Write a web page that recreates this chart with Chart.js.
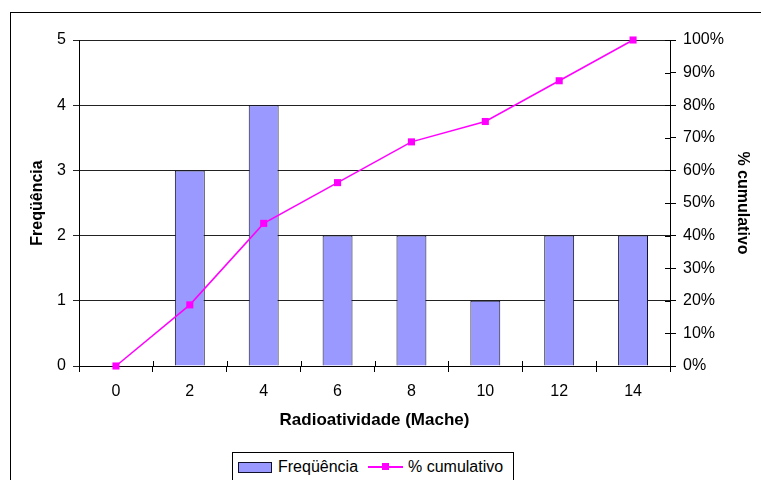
<!DOCTYPE html>
<html>
<head>
<meta charset="utf-8">
<script src="https://cdn.jsdelivr.net/npm/chart.js@4"></script>
<style>
  body { margin: 0; background: #fff; }
  #wrap { position: relative; width: 761px; height: 480px; overflow: hidden; font-family: "Liberation Sans", Arial, sans-serif; }
  #frame { position: absolute; left: 10px; top: 12px; width: 800px; height: 500px; border: 1px solid #000; }
  #grafico { position: absolute; left: 0; top: 0; }
  #legenda { position: absolute; left: 232px; top: 452px; width: 280px; height: 40px; border: 1px solid #000; background: #fff; }
  .sw { position: absolute; }
  .txt { position: absolute; font-size: 16px; line-height: 18px; color: #000; white-space: nowrap; }
</style>
</head>
<body>
<div id="wrap">
  <div id="frame"></div>
  <canvas id="grafico" width="761" height="480"></canvas>
  <div id="legenda">
    <div class="sw" style="left:5px;top:9px;width:32px;height:9px;background:#9999FF;border:1px solid #10102a;"></div>
    <div class="txt" style="left:45px;top:5px;">Freqüência</div>
    <div class="sw" style="left:135px;top:13px;width:35px;height:2px;background:#FF00FF;"></div>
    <div class="sw" style="left:149px;top:10px;width:7px;height:7px;background:#FF00FF;"></div>
    <div class="txt" style="left:175px;top:5px;">% cumulativo</div>
  </div>
</div>
<script>
// dados
const categorias = ['0', '2', '4', '6', '8', '10', '12', '14'];
const frequencia = [0, 3, 4, 2, 2, 1, 2, 2];
const cumulativo = [0, 18.75, 43.75, 56.25, 68.75, 75, 87.5, 100];
const ticksFreq = [0, 1, 2, 3, 4, 5];
const ticksPct = [0, 10, 20, 30, 40, 50, 60, 70, 80, 90, 100];

const fonte = { family: '"Liberation Sans", Arial, sans-serif', size: 16 };
const fonteBold = { family: '"Liberation Sans", Arial, sans-serif', size: 16, weight: 'bold' };

// marcas de escala cruzando o eixo (estilo Excel)
const cruzTicks = {
  id: 'cruzTicks',
  afterDatasetsDraw(chart) {
    const { ctx, scales } = chart;
    ctx.save();
    ctx.strokeStyle = '#000';
    ctx.lineWidth = 1;
    const x = scales.x;
    const n = categorias.length;
    const passo = (x.right - x.left) / n;
    for (let i = 0; i <= n; i++) {
      const px = Math.round(x.left + passo * i) + 0.5;
      ctx.beginPath();
      ctx.moveTo(px, x.top - 5);
      ctx.lineTo(px, x.top);
      ctx.stroke();
    }
    const y1 = scales.y1;
    ticksPct.forEach(v => {
      const py = Math.round(y1.getPixelForValue(v)) + 0.5;
      ctx.beginPath();
      ctx.moveTo(y1.left - 5, py);
      ctx.lineTo(y1.left, py);
      ctx.stroke();
    });
    ctx.restore();
  }
};

const ctx = document.getElementById('grafico').getContext('2d');
new Chart(ctx, {
  type: 'bar',
  data: {
    labels: categorias,
    datasets: [
      {
        type: 'line',
        label: '% cumulativo',
        data: cumulativo,
        yAxisID: 'y1',
        borderColor: '#FF00FF',
        backgroundColor: '#FF00FF',
        borderWidth: 1.5,
        pointStyle: 'rect',
        pointRadius: 5,
        pointBorderWidth: 0,
        tension: 0,
        clip: false,
        order: 1
      },
      {
        type: 'bar',
        label: 'Freqüência',
        data: frequencia,
        yAxisID: 'y',
        backgroundColor: '#9999FF',
        borderColor: '#10102a',
        borderWidth: 1,
        barPercentage: 0.405,
        categoryPercentage: 1,
        order: 2
      }
    ]
  },
  options: {
    responsive: false,
    animation: false,
    layout: { padding: { top: 40, left: 0, right: 0, bottom: 0 } },
    plugins: {
      legend: { display: false },
      tooltip: { enabled: false }
    },
    scales: {
      x: {
        type: 'category',
        offset: true,
        grid: { offset: true, drawOnChartArea: false, tickLength: 6, color: '#000' },
        border: { color: '#000' },
        ticks: { color: '#000', font: fonte, padding: 10, maxRotation: 0 },
        title: { display: true, text: 'Radioatividade (Mache)', color: '#000', font: { family: fonte.family, size: 17, weight: 'bold' }, padding: { top: 0, bottom: 49 } },
        afterFit: s => { s.height = 114; }
      },
      y: {
        position: 'left',
        min: 0,
        max: 5,
        afterBuildTicks: s => { s.ticks = ticksFreq.map(v => ({ value: v })); },
        ticks: { color: '#000', font: fonte, padding: 7 },
        grid: { color: '#222', tickLength: 6 },
        border: { color: '#000' },
        title: { display: true, text: 'Freqüência', color: '#000', font: fonteBold, padding: { top: 28, bottom: 0 } },
        afterFit: s => { s.width = 79; }
      },
      y1: {
        position: 'right',
        min: 0,
        max: 100,
        afterBuildTicks: s => { s.ticks = ticksPct.map(v => ({ value: v })); },
        ticks: { color: '#000', font: fonte, padding: 7, callback: v => v + '%' },
        grid: { drawOnChartArea: false, tickLength: 6, color: '#000' },
        border: { color: '#000' },
        title: { display: true, text: '% cumulativo', color: '#000', font: fonteBold, padding: { top: 9, bottom: 0 } },
        afterFit: s => { s.width = 91; }
      }
    }
  },
  plugins: [cruzTicks]
});
</script>
</body>
</html>
